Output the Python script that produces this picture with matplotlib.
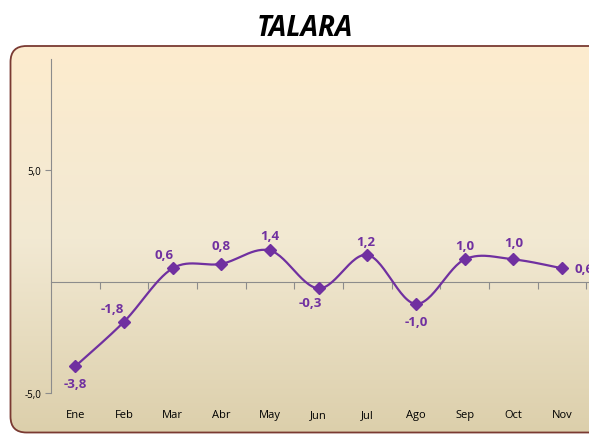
import numpy as np
import matplotlib
matplotlib.use("Agg")
import matplotlib.pyplot as plt
from matplotlib.patches import FancyBboxPatch
from matplotlib.colors import LinearSegmentedColormap
import matplotlib.transforms as mtransforms

months = ["Ene", "Feb", "Mar", "Abr", "May", "Jun", "Jul", "Ago", "Sep", "Oct", "Nov"]
values = [-3.8, -1.8, 0.6, 0.8, 1.4, -0.3, 1.2, -1.0, 1.0, 1.0, 0.6]
labels = ["-3,8", "-1,8", "0,6", "0,8", "1,4", "-0,3", "1,2", "-1,0", "1,0", "1,0", "0,6"]
# label offsets in pixels (dx, dy)
offsets = [(0, -17), (-12, 13), (-9, 14), (0, 18), (0, 15), (-8, -14), (-2, 13), (0, -18), (0, 14), (0, 17), (22, 0)]
yticks = [-5, 5]
yticklabels = ["-5,0", "5,0"]

W, H = 589, 435
fig = plt.figure(figsize=(W / 100, H / 100), dpi=100)
fig.patch.set_facecolor("white")

# background rounded box with gradient
bg = fig.add_axes([0, 0, 1, 1], zorder=0)
bg.set_xlim(0, W)
bg.set_ylim(H, 0)
bg.axis("off")
cmap = LinearSegmentedColormap.from_list("g", ["#fdecce", "#f2e9d3", "#dccfab"])
grad = np.linspace(0, 1, 256).reshape(-1, 1)
im = bg.imshow(grad, extent=[10, 700, 434, 47], cmap=cmap, aspect="auto", origin="upper", zorder=1)
box = FancyBboxPatch((10.5, 47), 690, 386.5, boxstyle="round,pad=0,rounding_size=16",
                     facecolor="none", edgecolor="#7a3a32", linewidth=1.3, zorder=2)
bg.add_patch(box)
im.set_clip_path(box)

fig.text(305 / W, 1 - 28 / H, "TALARA", ha="center", va="center", fontsize=20,
         fontweight="bold", fontstyle="italic", family="Open Sans")

ax = fig.add_axes([51 / W, 1 - 394 / H, (635 - 51) / W, (394 - 60) / H], zorder=3)
ax.patch.set_alpha(0)
ax.set_xlim(-0.5, 11.5)
ax.set_ylim(-5, 10)

# smoothed line (Excel-style Bezier)
x = np.arange(len(values), dtype=float)
y = np.array(values, dtype=float)
P = np.column_stack([x, y])
pts = []
t = np.linspace(0, 1, 30)
n = len(P)
for i in range(n - 1):
    p0 = P[i]
    p3 = P[i + 1]
    pm = P[i - 1] if i > 0 else P[i]
    pp = P[i + 2] if i + 2 < n else P[i + 1]
    c1 = p0 + (p3 - pm) / 6
    c2 = p3 - (pp - p0) / 6
    seg = ((1 - t)[:, None] ** 3) * p0 + 3 * ((1 - t)[:, None] ** 2) * t[:, None] * c1 \
        + 3 * (1 - t)[:, None] * (t[:, None] ** 2) * c2 + (t[:, None] ** 3) * p3
    pts.append(seg)
curve = np.vstack(pts)
purple = "#7030a0"
ax.plot(curve[:, 0], curve[:, 1], color=purple, lw=1.6, zorder=4)
ax.plot(x, y, linestyle="none", marker="D", markersize=6, color=purple, zorder=5)

for xi, yi, lab, (dx, dy) in zip(x, y, labels, offsets):
    ax.annotate(lab, (xi, yi), xytext=(dx * 0.72, dy * 0.72), textcoords="offset points",
                ha="center", va="center", fontsize=9.5, fontweight="bold", color=purple,
                family="Open Sans", zorder=6, annotation_clip=False)

# axes styling
for s in ["top", "right"]:
    ax.spines[s].set_visible(False)
ax.spines["left"].set_color("#8c8c8c")
ax.spines["bottom"].set_position(("data", 0))
ax.spines["bottom"].set_color("#8c8c8c")
ax.set_yticks(yticks)
ax.set_yticklabels(yticklabels, fontsize=7, family="Open Sans")
ax.tick_params(axis="y", length=4, color="#8c8c8c", pad=3)
ax.set_xticks(np.arange(0.5, 11.5, 1))
ax.set_xticklabels([])
ax.tick_params(axis="x", length=5, direction="out", color="#8c8c8c")

trans = mtransforms.blended_transform_factory(ax.transData, fig.transFigure)
for i, m in enumerate(months):
    ax.text(i, 1 - 416 / H, m, transform=trans, ha="center", va="center", fontsize=8,
            family="Open Sans", clip_on=False)

fig.savefig("out.png", dpi=100)
